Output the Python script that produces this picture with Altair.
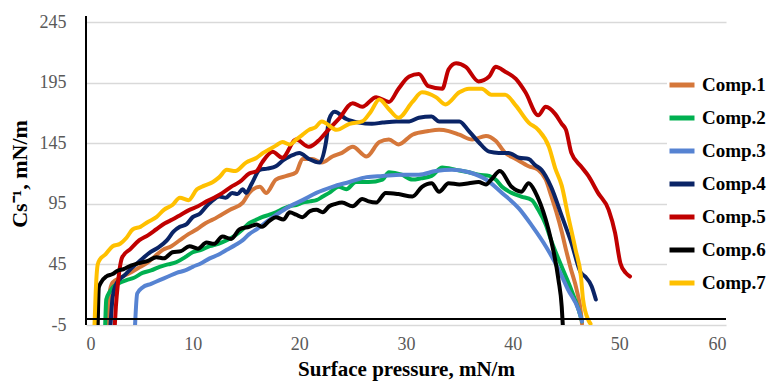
import altair as alt
import pandas as pd

# ---------------- data ----------------
series_names = ["Comp.1", "Comp.2", "Comp.3", "Comp.4", "Comp.5", "Comp.6", "Comp.7"]
series_colors = ["#D5773A", "#00B050", "#5683D2", "#0A2466", "#C00000", "#000000", "#FFC000"]

comp1_x = [2.1, 2.2, 2.5, 3.2, 4.1, 4.9, 5.7, 6.5, 7.2, 8.0, 8.8, 9.6, 10.4, 11.2, 11.9, 12.7, 13.5, 14.7,
           15.3, 16.3, 16.9, 17.8, 18.8, 19.7, 20.3, 21.2, 22.1, 23.1, 24.0, 25.0, 26.3, 27.5, 28.4, 29.3,
           30.6, 32.1, 33.1, 34.0, 35.0, 36.2, 37.5, 38.4, 39.3, 40.3, 41.5, 42.4, 43.1, 43.6, 44.1, 44.6,
           45.0, 45.4, 46.0, 46.4, 46.5]
comp1_y = [-5, 21, 30, 34, 38, 42, 46, 52, 57, 60, 65, 70, 74, 79, 82, 86, 90, 96,
           104, 109, 104, 115, 118, 121, 132, 132, 129, 134, 137, 142, 134, 146, 148, 144,
           152, 155, 156, 155, 152, 148, 151, 147, 137, 132, 126, 123, 115, 102, 88, 72,
           57, 43, 24, 5, -4]

comp2_x = [1.8, 1.9, 2.2, 2.5, 3.0, 3.8, 4.5, 5.3, 6.1, 6.9, 7.7, 8.5, 9.3, 10.0, 10.8, 11.6, 12.4, 13.2,
           14.0, 14.7, 15.3, 16.0, 16.5, 17.2, 17.8, 18.5, 19.1, 19.7, 20.3, 21.0, 21.6, 22.2, 22.8, 23.7,
           24.4, 25.3, 26.5, 27.8, 28.4, 29.6, 30.6, 31.4, 32.4, 33.4, 34.7, 35.9, 36.8, 37.8, 38.4, 39.0,
           39.9, 40.8, 41.8, 42.4, 43.1, 43.6, 44.6, 45.5, 46.2, 46.5]
comp2_y = [-5, 16, 22, 26, 29, 32, 34, 38, 40, 43, 45, 47, 51, 55, 57, 60, 62, 65,
           69, 74, 79, 82, 84, 86, 88, 91, 93, 94, 96, 97, 98, 101, 104, 109,
           107, 113, 113, 115, 121, 119, 115, 116, 118, 125, 123, 121, 119, 118, 115, 109,
           104, 101, 98, 90, 78, 65, 43, 24, 7, -2]

comp3_x = [4.6, 4.8, 5.3, 6.1, 6.9, 7.7, 8.5, 9.3, 10.0, 10.8, 11.6, 12.4, 13.2, 14.0, 14.7, 15.3, 16.0,
           17.2, 18.2, 19.1, 20.3, 21.6, 23.1, 24.7, 26.3, 27.8, 29.6, 31.2, 32.8, 34.3, 35.9, 37.5, 39.0,
           40.6, 41.8, 43.1, 44.3, 45.2, 46.2, 46.5]
comp3_y = [-5, 21, 26, 29, 32, 35, 38, 40, 43, 46, 50, 53, 57, 61, 65, 70, 74,
           82, 88, 93, 98, 104, 109, 113, 117, 118, 119, 119, 122, 123, 121, 115, 104,
           91, 77, 60, 41, 24, 7, -2]

comp4_x = [2.3, 2.5, 2.9, 3.6, 4.4, 5.2, 6.0, 6.8, 7.6, 8.2, 8.8, 9.4, 10.0, 10.7, 11.3, 11.9, 12.5, 13.1,
           13.7, 14.2, 14.7, 15.0, 15.5, 16.3, 17.0, 17.8, 18.5, 19.1, 20.0, 20.9, 21.9, 22.5, 22.8, 23.3,
           24.4, 25.6, 26.8, 27.8, 29.1, 30.3, 31.2, 32.4, 33.1, 34.0, 35.0, 35.9, 36.8, 37.8, 38.7, 39.6,
           40.6, 41.5, 42.1, 42.7, 43.6, 44.6, 45.5, 46.4, 46.8, 47.4, 47.8]
comp4_y = [-5, 18, 30, 36, 43, 49, 55, 59, 65, 72, 76, 78, 84, 87, 93, 98, 101, 100,
           104, 103, 107, 104, 111, 123, 124, 126, 131, 134, 137, 132, 129, 146, 165, 171,
           165, 162, 161, 162, 163, 163, 166, 167, 163, 163, 163, 155, 146, 138, 137, 137,
           133, 132, 127, 123, 109, 85, 63, 38, 35, 27, 16]

comp5_x = [2.7, 2.8, 3.0, 3.4, 4.2, 5.0, 5.8, 6.6, 7.4, 8.1, 8.9, 9.7, 10.5, 11.3, 12.0, 12.8, 13.6, 14.4,
           15.3, 16.0, 16.5, 17.5, 18.4, 19.7, 20.9, 21.9, 22.5, 23.7, 25.0, 25.9, 27.2, 28.4, 29.3, 30.3,
           31.2, 32.1, 33.4, 34.0, 34.7, 35.6, 36.8, 37.8, 38.4, 39.3, 40.3, 41.2, 42.4, 43.1, 44.0, 44.6,
           45.0, 45.5, 46.4, 47.1, 48.0, 49.0, 49.6, 50.1, 50.6, 51.0]
comp5_y = [-5, 10, 30, 51, 58, 65, 69, 74, 79, 82, 86, 90, 93, 97, 100, 104, 109, 113,
           120, 122, 129, 138, 133, 148, 142, 148, 154, 165, 178, 175, 183, 179, 190, 200,
           202, 192, 190, 206, 211, 208, 196, 200, 208, 204, 198, 187, 168, 175, 169, 161,
           156, 137, 126, 118, 104, 90, 71, 46, 38, 35]

comp6_x = [1.1, 1.2, 1.4, 1.9, 2.5, 3.0, 3.5, 4.2, 5.0, 5.8, 6.6, 7.3, 8.1, 8.9, 9.7, 10.5, 11.3, 12.0,
           12.8, 13.6, 14.4, 15.3, 16.0, 16.5, 17.2, 17.8, 18.5, 19.1, 19.7, 20.3, 21.0, 21.6, 22.2, 22.8,
           23.4, 24.0, 25.0, 25.9, 26.5, 27.2, 28.1, 29.3, 30.6, 31.5, 32.4, 33.1, 34.0, 35.0, 35.9, 36.8,
           37.5, 38.0, 38.8, 39.9, 40.8, 41.5, 42.1, 42.6, 43.1, 43.6, 44.3, 44.6, 44.7]
comp6_y = [-5, 26, 30, 35, 37, 40, 41, 44, 46, 48, 51, 50, 55, 56, 60, 58, 63, 62,
           68, 66, 74, 76, 78, 76, 81, 84, 82, 88, 86, 84, 89, 90, 88, 93,
           95, 96, 93, 99, 97, 96, 104, 103, 101, 109, 112, 105, 112, 111, 112, 113,
           111, 115, 122, 109, 105, 112, 105, 95, 82, 65, 32, 10, -5]

comp7_x = [0.8, 0.9, 1.1, 1.3, 1.8, 2.5, 3.2, 3.8, 4.4, 5.1, 5.8, 6.6, 7.3, 8.1, 8.8, 9.6, 10.4, 11.1,
           11.9, 12.5, 13.2, 14.0, 15.0, 16.0, 16.6, 17.2, 17.8, 18.4, 19.1, 19.7, 20.3, 20.9, 21.5, 22.1,
           23.5, 24.7, 25.9, 26.7, 27.5, 28.4, 29.3, 30.6, 31.5, 32.8, 33.7, 35.0, 35.9, 37.1, 38.0, 39.3,
           40.3, 41.5, 42.4, 43.4, 44.0, 44.6, 45.2, 45.9, 46.4, 46.6, 47.1, 47.3]
comp7_y = [-5, 20, 45, 49, 53, 60, 62, 67, 74, 76, 80, 84, 90, 94, 100, 98, 107, 110,
           113, 117, 123, 122, 129, 133, 137, 140, 143, 146, 144, 148, 152, 156, 158, 163,
           156, 161, 163, 171, 181, 173, 166, 179, 187, 183, 177, 187, 190, 190, 185, 185,
           176, 162, 156, 142, 124, 110, 85, 57, 35, 16, -1, -4]

xs = [comp1_x, comp2_x, comp3_x, comp4_x, comp5_x, comp6_x, comp7_x]
ys = [comp1_y, comp2_y, comp3_y, comp4_y, comp5_y, comp6_y, comp7_y]

x_ticks = [0, 10, 20, 30, 40, 50, 60]
y_ticks = [-5, 45, 95, 145, 195, 245]

rows = []
for name, sx, sy in zip(series_names, xs, ys):
    for i, (a, b) in enumerate(zip(sx, sy)):
        rows.append({"series": name, "x": a, "y": b, "i": i})
df = pd.DataFrame(rows)

SERIF = "Liberation Serif"

lines = alt.Chart(df).mark_line(
    strokeWidth=4, strokeCap="round", strokeJoin="round", interpolate="monotone", clip=True
).encode(
    x=alt.X("x:Q", scale=alt.Scale(domain=[0, 60], nice=False, zero=False),
            axis=alt.Axis(values=x_ticks, grid=False, domain=False, ticks=False,
                          title="Surface pressure, mN/m", labelPadding=10, titlePadding=5,
                          titleFontSize=21)),
    y=alt.Y("y:Q", scale=alt.Scale(domain=[-5, 245], nice=False, zero=False),
            axis=alt.Axis(values=y_ticks, grid=True, gridColor="#d9d9d9", gridWidth=1.3,
                          domain=False, ticks=False,
                          labelExpr="'' + datum.value",
                          title="Cs⁻¹, mN/m", labelPadding=20, titlePadding=8)),
    color=alt.Color("series:N",
                    scale=alt.Scale(domain=series_names, range=series_colors),
                    legend=alt.Legend(title=None, orient="none", legendX=581, legendY=48,
                                      symbolType="stroke", symbolSize=625, symbolStrokeWidth=5,
                                      labelFont=SERIF, labelFontSize=19, labelFontWeight="bold",
                                      labelColor="#000000", labelOffset=5, rowPadding=8,
                                      padding=0, fillColor="#ffffff")),
    order=alt.Order("i:Q"),
)

# horizontal axis line at y = 0 and vertical axis line at x = 0
zero_rule = alt.Chart(df).mark_rule(color="#000000", strokeWidth=1.5).encode(
    y=alt.datum(0)
)
y_axis_line = alt.Chart(df).mark_rule(color="#000000", strokeWidth=1.5).encode(
    x=alt.datum(0), y=alt.datum(-5), y2=alt.datum(250)
)

chart = alt.layer(lines, zero_rule, y_axis_line).properties(
    width=640, height=303,
    autosize=alt.AutoSizeParams(type="none"),
    padding={"left": 78, "top": 14, "right": 46, "bottom": 57},
).configure_view(stroke=None).configure_axis(
    labelFont=SERIF, labelFontSize=18, labelColor="#595959",
    titleFont=SERIF, titleFontSize=22, titleFontWeight="bold", titleColor="#000000",
)

chart.save("out.html", embed_options={"renderer": "svg", "actions": False})
